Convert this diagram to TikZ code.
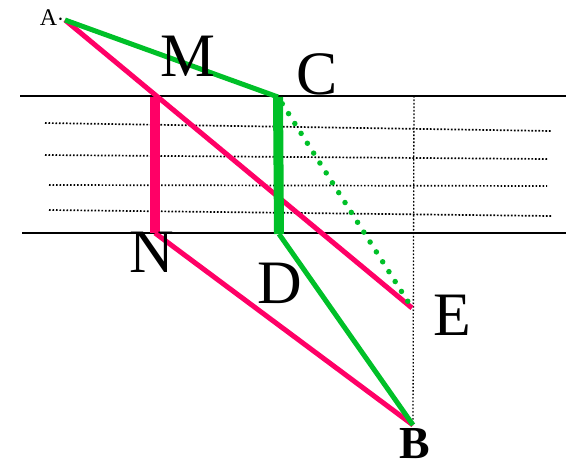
\documentclass[tikz,border=0pt]{standalone}
\usepackage{fontspec}
\setmainfont{Liberation Serif}
\usetikzlibrary{positioning}
\definecolor{rayred}{RGB}{255,0,102}
\definecolor{raygreen}{RGB}{0,192,40}

\begin{document}
\begin{tikzpicture}[x=1bp, y=-1bp,
  redray/.style={draw=rayred, line width=5bp},
  greenray/.style={draw=raygreen, line width=5bp},
  bank/.style={draw=black, line width=2bp},
  ripple/.style={draw=black, line width=1.7bp, dash pattern=on 1.7bp off 1.8bp},
  lbl/.style={inner sep=0pt, font=\fontsize{62}{62}\selectfont}]
\useasboundingbox (0,0) rectangle (566,465);
% points
\coordinate (A) at (65,20);
\coordinate (M) at (155,97);
\coordinate (C) at (278,97);
\coordinate (N) at (155,233);
\coordinate (D) at (279,234);
\coordinate (E) at (412,308);
\coordinate (B) at (413,425);
\coordinate (F) at (414,96);
% banks and ripples
\draw[bank] (20,96) -- (566,96);
\draw[bank] (22,233) -- (566,233);
\draw[ripple] (45,123) -- (551,131);
\draw[ripple] (45,155) -- (547,159);
\draw[ripple] (49,185) -- (547,186);
\draw[ripple] (49,210) -- (551,216);
\draw[ripple, line width=1.3bp] (F) -- (B);
% rays
\draw[redray] (A) -- (E);
\draw[redray, line width=10bp] (M) -- (N);
\draw[redray] (N) -- (B);
\draw[greenray] (A) -- (C);
\draw[greenray, line width=10bp] (C) -- (D);
\draw[greenray] (D) -- (B);
\draw[raygreen, line width=5.5bp, line cap=round, dash pattern=on 0bp off 11.7bp,
  shorten <=8bp, shorten >=6bp] (C) -- (E);
% labels
\node[inner sep=0pt, font=\fontsize{24}{24}\selectfont] (lA) at (52,18) {A$\cdot$};
\node[lbl] (lM) at (188,56) {M};
\node[lbl] (lC) at (317,74) {C};
\node[lbl] (lN) at (152,252) {N};
\node[lbl] (lD) at (280,283) {D};
\node[lbl] (lE) at (452,315) {E};
\node[inner sep=0pt, font=\fontsize{46}{46}\selectfont\bfseries] (lB) at (415,444) {B};
\end{tikzpicture}
\end{document}
